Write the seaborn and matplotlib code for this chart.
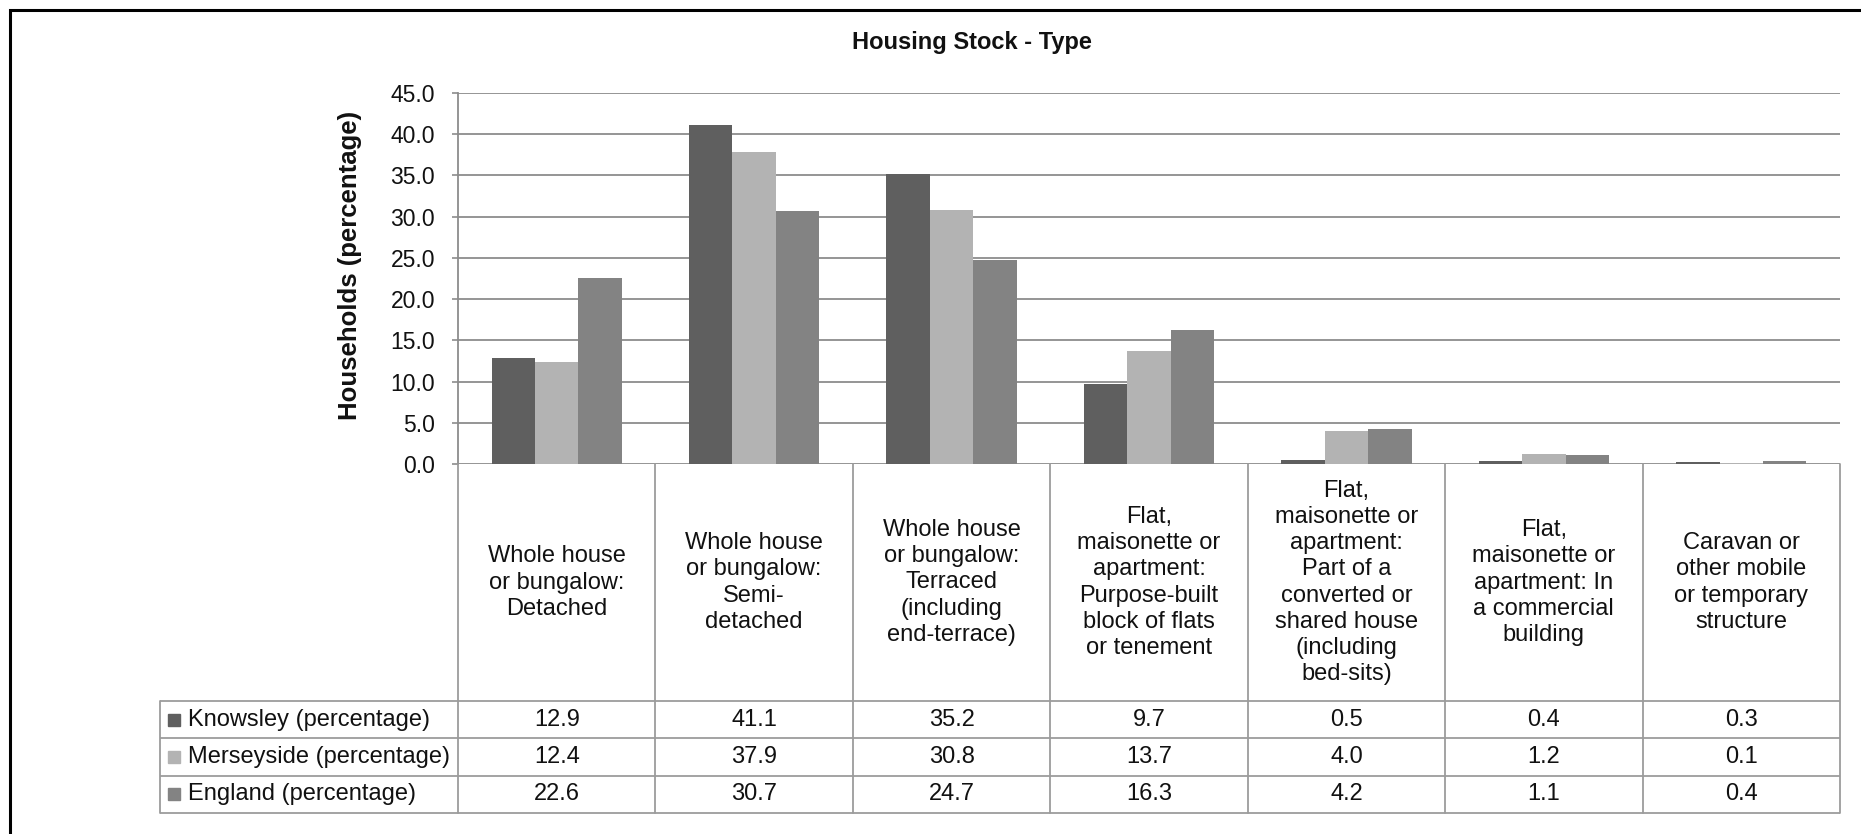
import numpy as np
import pandas as pd
import matplotlib
matplotlib.use("Agg")
import matplotlib.pyplot as plt
import seaborn as sns
from matplotlib.patches import Rectangle
from matplotlib.ticker import FormatStrFormatter

# ---------------- data ----------------
title = "Housing Stock - Type"
y_label = "Households (percentage)"
categories = [
    "Whole house\nor bungalow:\nDetached",
    "Whole house\nor bungalow:\nSemi-\ndetached",
    "Whole house\nor bungalow:\nTerraced\n(including\nend-terrace)",
    "Flat,\nmaisonette or\napartment:\nPurpose-built\nblock of flats\nor tenement",
    "Flat,\nmaisonette or\napartment:\nPart of a\nconverted or\nshared house\n(including\nbed-sits)",
    "Flat,\nmaisonette or\napartment: In\na commercial\nbuilding",
    "Caravan or\nother mobile\nor temporary\nstructure",
]
series_names = ["Knowsley (percentage)", "Merseyside (percentage)", "England (percentage)"]
knowsley = [12.9, 41.1, 35.2, 9.7, 0.5, 0.4, 0.3]
merseyside = [12.4, 37.9, 30.8, 13.7, 4.0, 1.2, 0.1]
england = [22.6, 30.7, 24.7, 16.3, 4.2, 1.1, 0.4]
y_ticks = [0, 5, 10, 15, 20, 25, 30, 35, 40, 45]
colors = ["#5f5f5f", "#b3b3b3", "#838383"]

series_values = [knowsley, merseyside, england]
df = pd.DataFrame({
    "category": categories * 3,
    "series": sum([[s] * len(categories) for s in series_names], []),
    "value": knowsley + merseyside + england,
})

# ---------------- style ----------------
sns.set_style("white")
plt.rcParams["font.family"] = ["Liberation Sans", "DejaVu Sans"]

W, H = 1861, 834
fig = plt.figure(figsize=(W / 100, H / 100), dpi=100)


def fx(px):
    return px / W


def fy(py):
    return 1 - py / H


plot_l, plot_r, plot_t, plot_b = 458, 1840, 93, 464
tab_l, tab_b, hdr_b = 160, 813, 701
grid_col = "#8c8c8c"
tab_col = "#9c9c9c"
txt_col = "#111111"

ax = fig.add_axes([fx(plot_l), fy(plot_b), fx(plot_r) - fx(plot_l), fy(plot_t) - fy(plot_b)])
sns.barplot(data=df, x="category", y="value", hue="series", order=categories,
            hue_order=series_names, palette=colors, width=0.66, gap=0,
            saturation=1, legend=False, ax=ax, errorbar=None,
            linewidth=0, edgecolor="none")
ax.set_xlim(-0.5, len(categories) - 0.5)
ax.set_ylim(0, 45)
ax.set_yticks(y_ticks)
ax.yaxis.set_major_formatter(FormatStrFormatter("%.1f"))
ax.set_xlabel("")
ax.set_ylabel(y_label, fontsize=18.5, fontweight="bold", color=txt_col)
ax.yaxis.set_label_coords(-0.078, 0.536)
ax.yaxis.label.set_verticalalignment("center")
ax.tick_params(axis="x", bottom=False, labelbottom=False)
ax.tick_params(axis="y", left=True, length=4.5, width=1.2, color=grid_col,
               labelsize=16.5, labelcolor=txt_col, pad=12, direction="out")
ax.yaxis.grid(True, color=grid_col, linewidth=1.3)
ax.set_axisbelow(True)
for s in ["top", "right", "bottom"]:
    ax.spines[s].set_visible(False)
ax.spines["left"].set_color(grid_col)
ax.spines["left"].set_linewidth(1.3)

# ---------------- data table ----------------
n = len(categories)
colw = (plot_r - plot_l) / n
x_left = -0.5 - (plot_l - tab_l) / colw
row_h = (tab_b - hdr_b) / 3
hdr_h = (hdr_b - plot_b) / row_h
top = 3 + hdr_h

tax = fig.add_axes([fx(tab_l), fy(tab_b), fx(plot_r) - fx(tab_l), fy(plot_b) - fy(tab_b)])
tax.set_xlim(x_left, n - 0.5)
tax.set_ylim(0, top)
tax.set_axis_off()

lw = 1.3
for yv in [0, 1, 2, 3]:
    tax.plot([x_left, n - 0.5], [yv, yv], color=tab_col, lw=lw, clip_on=False, solid_capstyle="butt")
tax.plot([x_left, x_left], [0, 3], color=tab_col, lw=lw, clip_on=False)
for i in range(n + 1):
    tax.plot([i - 0.5, i - 0.5], [0, top], color=tab_col, lw=lw, clip_on=False)

for i, cat in enumerate(categories):
    tax.text(i, 3 + hdr_h / 2, cat, ha="center", va="center", fontsize=17,
             linespacing=1.24, color=txt_col)

for r, (name, vals, col) in enumerate(zip(series_names, series_values, colors)):
    yc = 2.5 - r
    for i, v in enumerate(vals):
        tax.text(i, yc, f"{v:.1f}", ha="center", va="center", fontsize=17, color=txt_col)
    tax.plot([x_left + 14 / colw], [yc], marker="s", markersize=8.5, color=col,
             linestyle="none", clip_on=False)
    tax.text(x_left + 28 / colw, yc, name, ha="left", va="center", fontsize=17, color=txt_col)

# ---------------- title & frame ----------------
fig.text(fx(972), fy(42), title, ha="center", va="center", fontsize=17, fontweight="bold",
         color=txt_col)
fig.add_artist(Rectangle((fx(10), -0.2), 1.2, fy(10) + 0.2, transform=fig.transFigure,
                         fill=False, edgecolor="black", linewidth=2.2))

fig.savefig("out.png", dpi=100)
